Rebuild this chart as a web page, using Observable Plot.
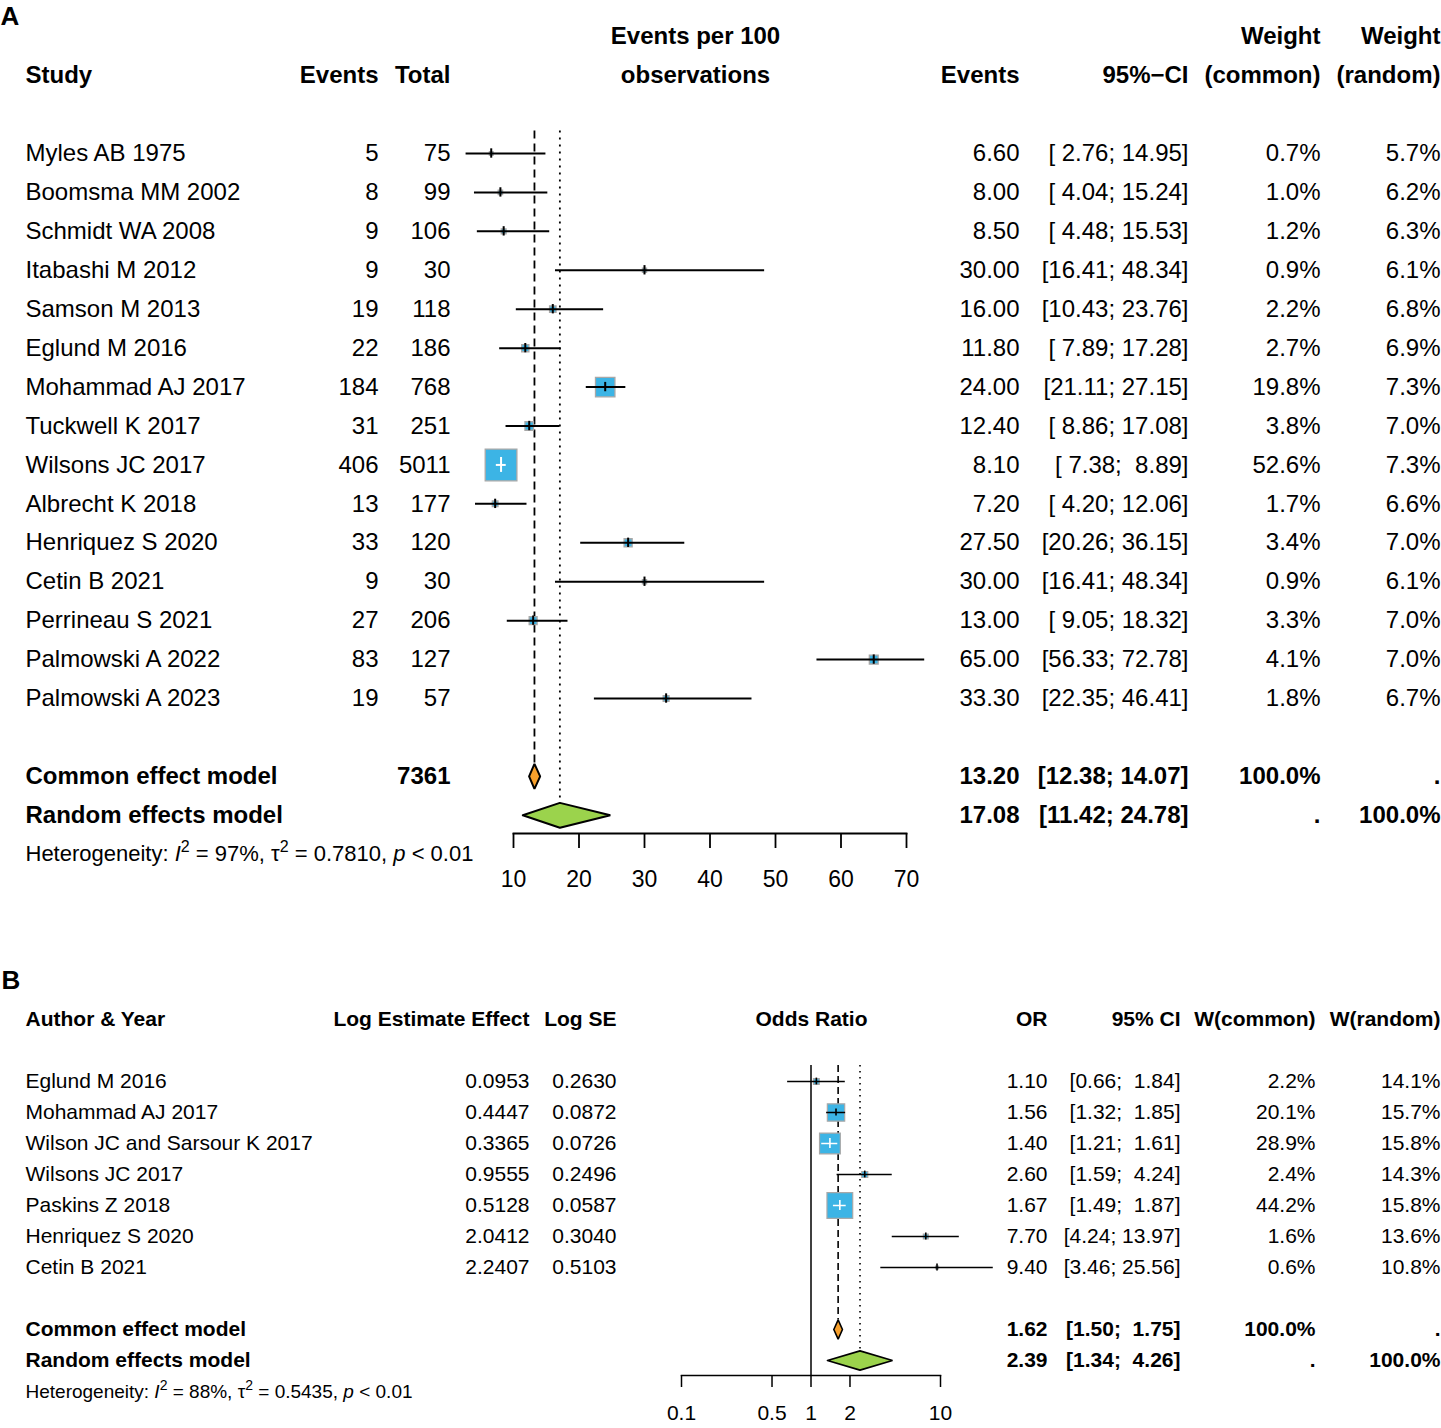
<!DOCTYPE html>
<html><head><meta charset="utf-8">
<script src="https://cdn.jsdelivr.net/npm/d3@7"></script>
<script src="https://cdn.jsdelivr.net/npm/@observablehq/plot@0.6"></script>
<style>
body{margin:0;background:#fff;}
#chart{width:1441px;}
#chart svg{display:block;}
</style></head><body><div id="chart"></div>
<script>
// ================= Panel A data =================
const studiesA = ["Myles AB 1975","Boomsma MM 2002","Schmidt WA 2008","Itabashi M 2012","Samson M 2013","Eglund M 2016","Mohammad AJ 2017","Tuckwell K 2017","Wilsons JC 2017","Albrecht K 2018","Henriquez S 2020","Cetin B 2021","Perrineau S 2021","Palmowski A 2022","Palmowski A 2023"];
const eventsA = [5,8,9,9,19,22,184,31,406,13,33,9,27,83,19];
const totalA = [75,99,106,30,118,186,768,251,5011,177,120,30,206,127,57];
const rateA = [6.60,8.00,8.50,30.00,16.00,11.80,24.00,12.40,8.10,7.20,27.50,30.00,13.00,65.00,33.30];
const lowerA = [2.76,4.04,4.48,16.41,10.43,7.89,21.11,8.86,7.38,4.20,20.26,16.41,9.05,56.33,22.35];
const upperA = [14.95,15.24,15.53,48.34,23.76,17.28,27.15,17.08,8.89,12.06,36.15,48.34,18.32,72.78,46.41];
const wCommonA = [0.7,1.0,1.2,0.9,2.2,2.7,19.8,3.8,52.6,1.7,3.4,0.9,3.3,4.1,1.8];
const wRandomA = [5.7,6.2,6.3,6.1,6.8,6.9,7.3,7.0,7.3,6.6,7.0,6.1,7.0,7.0,6.7];
const summaryLabelsA = ["Common effect model","Random effects model"];
const summaryTotalA = ["7361",""];
const summaryRateA = [13.20,17.08];
const summaryLowerA = [12.38,11.42];
const summaryUpperA = [14.07,24.78];
const summaryWCommonA = ["100.0%","."];
const summaryWRandomA = [".","100.0%"];
const headerTopA = ["","","","Events per 100","","","Weight","Weight"];
const headerA = ["Study","Events","Total","observations","Events","95%\u2212CI","(common)","(random)"];
const ticksA = [10,20,30,40,50,60,70];
const heterogeneityA = {I2:"97%", tau2:"0.7810", p:"< 0.01"};

// ================= Panel B data =================
const studiesB = ["Eglund M 2016","Mohammad AJ 2017","Wilson JC and Sarsour K 2017","Wilsons JC 2017","Paskins Z 2018","Henriquez S 2020","Cetin B 2021"];
const logEstB = [0.0953,0.4447,0.3365,0.9555,0.5128,2.0412,2.2407];
const logSeB = [0.2630,0.0872,0.0726,0.2496,0.0587,0.3040,0.5103];
const orB = [1.10,1.56,1.40,2.60,1.67,7.70,9.40];
const lowerB = [0.66,1.32,1.21,1.59,1.49,4.24,3.46];
const upperB = [1.84,1.85,1.61,4.24,1.87,13.97,25.56];
const wCommonB = [2.2,20.1,28.9,2.4,44.2,1.6,0.6];
const wRandomB = [14.1,15.7,15.8,14.3,15.8,13.6,10.8];
const summaryLabelsB = ["Common effect model","Random effects model"];
const summaryOrB = [1.62,2.39];
const summaryLowerB = [1.50,1.34];
const summaryUpperB = [1.75,4.26];
const summaryWCommonB = ["100.0%","."];
const summaryWRandomB = [".","100.0%"];
const headerB = ["Author & Year","Log Estimate Effect","Log SE","Odds Ratio","OR","95% CI","W(common)","W(random)"];
const ticksB = [0.1,0.5,1,2,10];
const heterogeneityB = {I2:"88%", tau2:"0.5435", p:"< 0.01"};

// ================= helpers =================
const FONT = "'Liberation Sans', Arial, Helvetica, sans-serif";
const BLUE = "#3cb4e5", SQ_STROKE = "#a8a8a8", ORANGE = "#f7a02c", GREEN = "#9bd34c";
const NB = "\u00a0";
const fmt2 = d3.format(".2f"), fmt4 = d3.format(".4f");
const pct = v => d3.format(".1f")(v) + "%";
const padTo = (s, n) => { while (s.length < n) s = NB + s; return s; };
const ciText = (lo, hi, wl, wh) => "[" + padTo(fmt2(lo), wl) + ";" + NB + padTo(fmt2(hi), wh) + "]";
const W = 1441;

function cols(rows, colsLayout, ml, fontSize) {
  const out = [];
  colsLayout.forEach((c, j) => {
    for (const bold of [false, true]) {
      const data = rows.filter(r => !!r.bold === bold && r.cells[j] != null && r.cells[j] !== "");
      if (!data.length) continue;
      out.push(Plot.text(data, {
        y: "row", text: r => r.cells[j], frameAnchor: "left", dx: c.x - ml,
        textAnchor: c.anchor, fontSize, fill: "black", fontWeight: bold ? "bold" : "normal"
      }));
    }
  });
  return out;
}
function diamond(s, h) {
  return [[s.lo, s.row], [s.est, s.row - h], [s.hi, s.row], [s.est, s.row + h], [s.lo, s.row]].map(([x, y]) => ({x, y}));
}
function richHet(svg, h, fs) {
  const sup = Math.round(fs * 0.42), small = Math.round(fs * 0.72);
  d3.select(svg).selectAll("text").filter(function () { return this.textContent.startsWith("Heterogeneity"); }).each(function () {
    const t = d3.select(this); t.text("");
    t.append("tspan").text("Heterogeneity:" + NB);
    t.append("tspan").attr("font-style", "italic").text("I");
    t.append("tspan").attr("dy", -sup).attr("font-size", small).text("2");
    t.append("tspan").attr("dy", sup).text(NB + "=" + NB + h.I2 + "," + NB + "\u03c4");
    t.append("tspan").attr("dy", -sup).attr("font-size", small).text("2");
    t.append("tspan").attr("dy", sup).text(NB + "=" + NB + h.tau2 + "," + NB);
    t.append("tspan").attr("font-style", "italic").text("p");
    t.append("tspan").text(NB + h.p);
  });
}

// ================= Panel A =================
{
  const H = 955, ml = 513, mr = 535, mb = 122;
  const y0 = 153, step = 38.93, k = 4.37, hD = 0.32, tick = 0.12;
  const fs = 24;
  const x = d3.scaleLinear([10, 70], [ml, W - mr]);
  const rows = studiesA.map((s, i) => ({row: i, est: rateA[i], lo: lowerA[i], hi: upperA[i], w: wCommonA[i]}));
  rows.forEach(d => { const h = k * Math.sqrt(d.w) / 2, p = x(d.est); d.inside = p - x(d.lo) <= h && x(d.hi) - p <= h; });
  const sums = summaryLabelsA.map((s, i) => ({row: 16 + i, est: summaryRateA[i], lo: summaryLowerA[i], hi: summaryUpperA[i]}));
  const wl = d3.max([...lowerA, ...summaryLowerA], v => fmt2(v).length);
  const wh = d3.max([...upperA, ...summaryUpperA], v => fmt2(v).length);
  const table = [
    {row: -3, bold: true, cells: headerTopA},
    {row: -2, bold: true, cells: headerA},
    ...studiesA.map((s, i) => ({row: i, cells: [s, String(eventsA[i]), String(totalA[i]), "", fmt2(rateA[i]), ciText(lowerA[i], upperA[i], wl, wh), pct(wCommonA[i]), pct(wRandomA[i])]})),
    ...summaryLabelsA.map((s, i) => ({row: 16 + i, bold: true, cells: [s, "", summaryTotalA[i], "", fmt2(summaryRateA[i]), ciText(summaryLowerA[i], summaryUpperA[i], wl, wh), summaryWCommonA[i], summaryWRandomA[i]]}))
  ];
  const layout = [{x: 25, anchor: "start"}, {x: 378, anchor: "end"}, {x: 450, anchor: "end"}, {x: 695, anchor: "middle"}, {x: 1019, anchor: "end"}, {x: 1188, anchor: "end"}, {x: 1320, anchor: "end"}, {x: 1440, anchor: "end"}];
  const top = -0.58;
  const plot = Plot.plot({
    width: W, height: H, marginLeft: ml, marginRight: mr, marginTop: 0, marginBottom: mb,
    x: {type: "linear", domain: [10, 70], label: null},
    y: {domain: [0, 18], range: [y0, y0 + 18 * step], axis: null, label: null},
    r: {type: "sqrt", domain: [0, 100], range: [0, 10 * k / Math.sqrt(Math.PI)]},
    style: {fontFamily: FONT, fontSize: fs + "px", color: "black", background: "white"},
    marks: [
      Plot.ruleX([sums[0]], {x: "est", y1: () => top, y2: d => d.row - hD, stroke: "black", strokeWidth: 1.8, strokeDasharray: "8,5"}),
      Plot.ruleX([sums[1]], {x: "est", y1: () => top, y2: d => d.row - hD, stroke: "black", strokeWidth: 1.8, strokeDasharray: "2,5"}),
      Plot.dot(rows, {x: "est", y: "row", r: "w", symbol: "square", fill: BLUE, stroke: SQ_STROKE, strokeWidth: 1.3}),
      Plot.ruleY(rows.filter(d => !d.inside), {y: "row", x1: "lo", x2: "hi", stroke: "black", strokeWidth: 2}),
      Plot.ruleY(rows.filter(d => d.inside), {y: "row", x1: "lo", x2: "hi", stroke: "white", strokeWidth: 2}),
      Plot.ruleX(rows.filter(d => !d.inside), {x: "est", y1: d => d.row - tick, y2: d => d.row + tick, stroke: "black", strokeWidth: 2}),
      Plot.ruleX(rows.filter(d => d.inside), {x: "est", y1: d => d.row - tick * 1.6, y2: d => d.row + tick * 1.6, stroke: "white", strokeWidth: 2}),
      Plot.line(diamond(sums[0], hD), {x: "x", y: "y", fill: ORANGE, stroke: "black", strokeWidth: 2, strokeLinejoin: "miter"}),
      Plot.line(diamond(sums[1], hD), {x: "x", y: "y", fill: GREEN, stroke: "black", strokeWidth: 2, strokeLinejoin: "miter"}),
      Plot.frame({anchor: "bottom", stroke: "black", strokeWidth: 1.8}),
      Plot.axisX(ticksA, {tickSize: 15, tickPadding: 22, fontSize: 23, strokeWidth: 1.8, stroke: "black", fill: "black", tickFormat: d => String(d), label: null}),
      ...cols(table, layout, ml, fs),
      Plot.text(["Heterogeneity"], {y: () => 18, text: d => d, frameAnchor: "left", dx: 25 - ml, textAnchor: "start", fontSize: 22, fill: "black"}),
      Plot.text(["A"], {frameAnchor: "top-left", dx: -ml, dy: 6, text: d => d, textAnchor: "start", fontSize: 26, fontWeight: "bold", fill: "black"})
    ]
  });
  richHet(plot, heterogeneityA, 22);
  document.getElementById("chart").appendChild(plot);
}

// ================= Panel B =================
{
  const H = 473, ml = 681, mr = 501, mb = 53;
  const y0 = 126, step = 31, k = 3.87, hD = 0.31, tick = 0.11;
  const fs = 21;
  const x = d3.scaleLog([0.1, 10], [ml, W - mr]);
  const rows = studiesB.map((s, i) => ({row: i, est: orB[i], lo: lowerB[i], hi: upperB[i], w: wCommonB[i]}));
  rows.forEach(d => { const h = k * Math.sqrt(d.w) / 2, p = x(d.est); d.inside = p - x(d.lo) <= h && x(d.hi) - p <= h; });
  const sums = summaryLabelsB.map((s, i) => ({row: 8 + i, est: summaryOrB[i], lo: summaryLowerB[i], hi: summaryUpperB[i]}));
  const wl = d3.max([...lowerB, ...summaryLowerB], v => fmt2(v).length);
  const wh = d3.max([...upperB, ...summaryUpperB], v => fmt2(v).length);
  const table = [
    {row: -2, bold: true, cells: headerB},
    ...studiesB.map((s, i) => ({row: i, cells: [s, fmt4(logEstB[i]), fmt4(logSeB[i]), "", fmt2(orB[i]), ciText(lowerB[i], upperB[i], wl, wh), pct(wCommonB[i]), pct(wRandomB[i])]})),
    ...summaryLabelsB.map((s, i) => ({row: 8 + i, bold: true, cells: [s, "", "", "", fmt2(summaryOrB[i]), ciText(summaryLowerB[i], summaryUpperB[i], wl, wh), summaryWCommonB[i], summaryWRandomB[i]]}))
  ];
  const layout = [{x: 25, anchor: "start"}, {x: 529, anchor: "end"}, {x: 616, anchor: "end"}, {x: 811, anchor: "middle"}, {x: 1047, anchor: "end"}, {x: 1180, anchor: "end"}, {x: 1315, anchor: "end"}, {x: 1440, anchor: "end"}];
  const top = -0.52, axisRow = (H - mb - y0) / step;
  const plot = Plot.plot({
    width: W, height: H, marginLeft: ml, marginRight: mr, marginTop: 0, marginBottom: mb,
    x: {type: "log", domain: [0.1, 10], label: null, axis: null},
    y: {domain: [0, 10], range: [y0, y0 + 10 * step], axis: null, label: null},
    r: {type: "sqrt", domain: [0, 100], range: [0, 10 * k / Math.sqrt(Math.PI)]},
    style: {fontFamily: FONT, fontSize: fs + "px", color: "black", background: "white"},
    marks: [
      Plot.ruleX([1], {x: d => d, y1: () => top, y2: () => axisRow, stroke: "black", strokeWidth: 1.5}),
      Plot.ruleX([sums[0]], {x: "est", y1: () => top, y2: d => d.row - hD, stroke: "black", strokeWidth: 1.6, strokeDasharray: "7,4"}),
      Plot.ruleX([sums[1]], {x: "est", y1: () => top, y2: d => d.row - hD, stroke: "black", strokeWidth: 1.6, strokeDasharray: "1.6,4.4"}),
      Plot.dot(rows, {x: "est", y: "row", r: "w", symbol: "square", fill: BLUE, stroke: SQ_STROKE, strokeWidth: 1.2}),
      Plot.ruleY(rows.filter(d => !d.inside), {y: "row", x1: "lo", x2: "hi", stroke: "black", strokeWidth: 1.5}),
      Plot.ruleY(rows.filter(d => d.inside), {y: "row", x1: "lo", x2: "hi", stroke: "white", strokeWidth: 1.5}),
      Plot.ruleX(rows.filter(d => !d.inside), {x: "est", y1: d => d.row - tick, y2: d => d.row + tick, stroke: "black", strokeWidth: 1.6}),
      Plot.ruleX(rows.filter(d => d.inside), {x: "est", y1: d => d.row - tick * 1.5, y2: d => d.row + tick * 1.5, stroke: "white", strokeWidth: 1.6}),
      Plot.line(diamond(sums[0], hD), {x: "x", y: "y", fill: ORANGE, stroke: "black", strokeWidth: 1.6, strokeLinejoin: "miter"}),
      Plot.line(diamond(sums[1], hD), {x: "x", y: "y", fill: GREEN, stroke: "black", strokeWidth: 1.6, strokeLinejoin: "miter"}),
      Plot.frame({anchor: "bottom", stroke: "black", strokeWidth: 1.5}),
      Plot.ruleX(ticksB, {x: d => d, y1: () => axisRow, y2: () => axisRow + 12 / step, stroke: "black", strokeWidth: 1.5}),
      Plot.text(ticksB, {x: d => d, text: d => String(d), frameAnchor: "bottom", lineAnchor: "middle", dy: 38, fontSize: 21, fill: "black"}),
      ...cols(table, layout, ml, fs),
      Plot.text(["Heterogeneity"], {y: () => 10, text: d => d, frameAnchor: "left", dx: 25 - ml, textAnchor: "start", fontSize: 19, fill: "black"}),
      Plot.text(["B"], {frameAnchor: "top-left", dx: -ml + 1, dy: 15, text: d => d, textAnchor: "start", fontSize: 26, fontWeight: "bold", fill: "black"})
    ]
  });
  richHet(plot, heterogeneityB, 19);
  document.getElementById("chart").appendChild(plot);
}
</script></body></html>
